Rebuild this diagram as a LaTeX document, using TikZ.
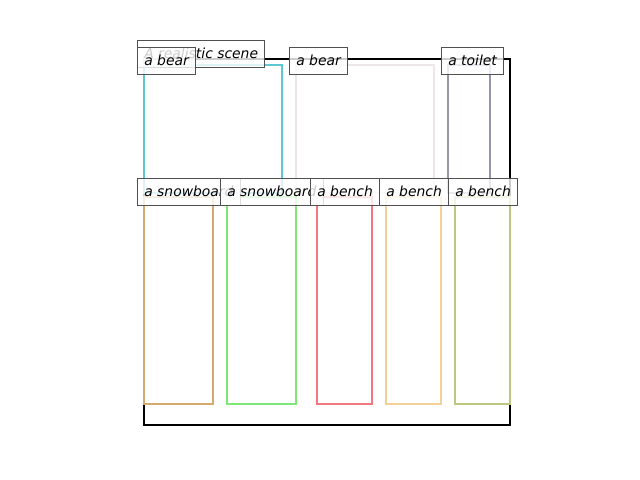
\documentclass[tikz,border=0pt]{standalone}
\usepackage{fontspec}
\setmainfont{DejaVu Sans}
\definecolor{cbearA}{RGB}{95,198,212}
\definecolor{cbearB}{RGB}{236,230,232}
\definecolor{ctoilet}{RGB}{155,147,170}
\definecolor{csnowA}{RGB}{214,170,110}
\definecolor{csnowB}{RGB}{126,232,118}
\definecolor{cbenchA}{RGB}{242,120,128}
\definecolor{cbenchB}{RGB}{242,208,150}
\definecolor{cbenchC}{RGB}{186,200,128}
\definecolor{labeledge}{RGB}{80,80,80}
\tikzset{
  objbox/.style={line width=1.8pt, line join=miter},
  framebox/.style={line width=2.1pt, draw=black},
  lbl/.style={draw=labeledge, line width=0.75pt, fill=white, fill opacity=0.8, text opacity=1,
    inner xsep=4.9pt, inner ysep=0pt, minimum height=20pt, text height=8.6pt, text depth=1.6pt,
    anchor=west, font=\fontsize{10pt}{12pt}\selectfont\itshape}
}
\begin{document}
\begin{tikzpicture}[x=0.72pt,y=-0.72pt]
\useasboundingbox (0,0) rectangle (640,480);
% scene frame
\draw[framebox] (144,59) rectangle (510,425);
% top row
\draw[objbox, draw=cbearA] (144,65) rectangle (282,193);
\draw[objbox, draw=cbearB] (296,65) rectangle (434,193);
\draw[objbox, draw=ctoilet] (448,65) rectangle (490,193);
% bottom row
\draw[objbox, draw=csnowA] (144,197) rectangle (213,404);
\draw[objbox, draw=csnowB] (227,197) rectangle (296,404);
\draw[objbox, draw=cbenchA] (317,197) rectangle (372,404);
\draw[objbox, draw=cbenchB] (386,197) rectangle (441,404);
\draw[objbox, draw=cbenchC] (455,197) rectangle (510,404);
% labels
\node[lbl] (title) at (137,54) {A realistic scene};
\node[lbl] (bearA) at (137,61) {a bear};
\node[lbl] (bearB) at (289,61) {a bear};
\node[lbl] (toilet) at (441,61) {a toilet};
\node[lbl] (snowA) at (137,192) {a snowboard};
\node[lbl] (snowB) at (220,192) {a snowboard};
\node[lbl] (benchA) at (310,192) {a bench};
\node[lbl] (benchB) at (379,192) {a bench};
\node[lbl] (benchC) at (448,192) {a bench};
\end{tikzpicture}
\end{document}
